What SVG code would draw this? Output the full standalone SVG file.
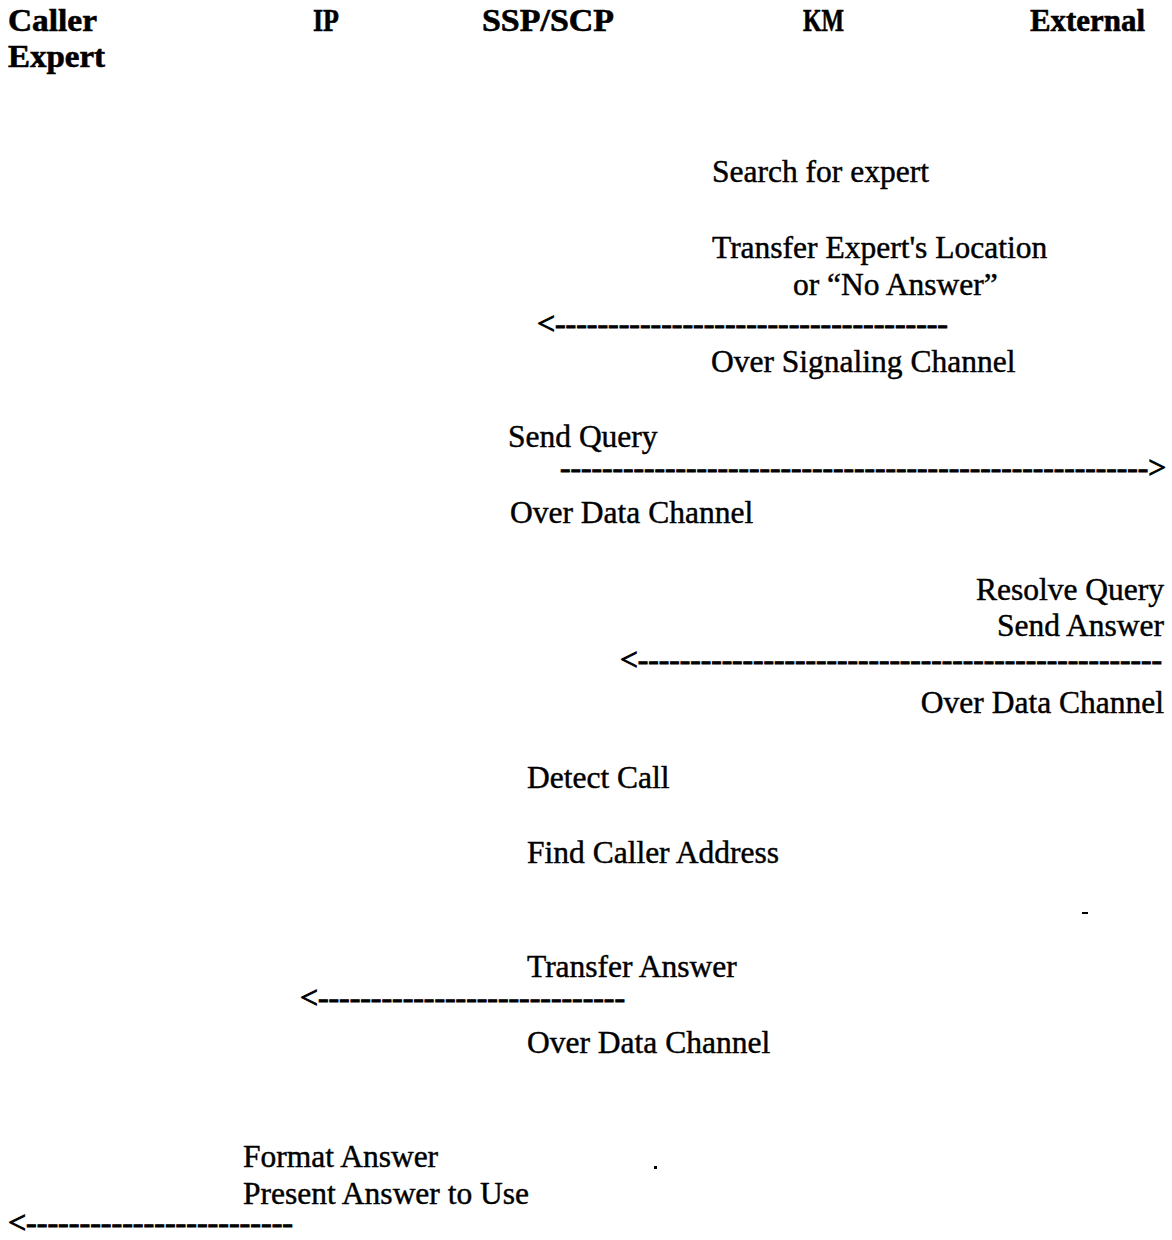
<svg xmlns="http://www.w3.org/2000/svg" width="1172" height="1240" viewBox="0 0 1172 1240">
  <style>
    text { font-family: "Liberation Serif", "Times New Roman", serif; font-size: 31.5px; fill: #000; stroke: #000; stroke-width: 0.45px; }
    .head { font-weight: bold; stroke-width: 0.6px; }
    .r { text-anchor: end; }
    .arrow { stroke-width: 1px; }
  </style>
  <rect width="1172" height="1240" fill="#fff"/>

  <!-- column headings -->
  <g id="heads">
    <g id="caller"><text class="head" x="8" y="31" textLength="89" lengthAdjust="spacingAndGlyphs">Caller</text><text class="head" x="8" y="67" textLength="97" lengthAdjust="spacingAndGlyphs">Expert</text></g>
    <g id="ip"><text class="head" x="313" y="31" textLength="26" lengthAdjust="spacingAndGlyphs">IP</text></g>
    <g id="sspscp"><text class="head" x="482" y="31" textLength="132" lengthAdjust="spacingAndGlyphs">SSP/SCP</text></g>
    <g id="km"><text class="head" x="803" y="31" textLength="41" lengthAdjust="spacingAndGlyphs">KM</text></g>
    <g id="external"><text class="head" x="1030" y="31" textLength="115" lengthAdjust="spacingAndGlyphs">External</text></g>
  </g>

  <!-- steps -->
  <g id="search"><text x="712" y="182">Search for expert</text></g>
  <g id="transfer-location">
    <text x="712" y="258">Transfer Expert's Location</text>
    <text x="793" y="295">or “No Answer”</text>
  </g>
  <g id="signaling-label"><text x="711" y="372">Over Signaling Channel</text></g>
  <g id="send-query"><text x="508" y="447">Send Query</text></g>
  <g id="data-label-1"><text x="510" y="523">Over Data Channel</text></g>
  <g id="resolve">
    <text class="r" x="1164" y="600">Resolve Query</text>
    <text class="r" x="1164" y="636">Send Answer</text>
  </g>
  <g id="data-label-2"><text class="r" x="1164" y="713">Over Data Channel</text></g>
  <g id="detect"><text x="527" y="788">Detect Call</text></g>
  <g id="find-address"><text x="527" y="863">Find Caller Address</text></g>
  <g id="transfer-answer"><text x="527" y="977">Transfer Answer</text></g>
  <g id="data-label-3"><text x="527" y="1053">Over Data Channel</text></g>
  <g id="format">
    <text x="243" y="1167">Format Answer</text>
    <text x="243" y="1204">Present Answer to Use</text>
  </g>

  <!-- connectors, typed as dashed text arrows -->
  <g id="connectors">
    <text class="arrow" x="537" y="334" textLength="411" lengthAdjust="spacingAndGlyphs">&lt;-------------------------------------</text>
    <text class="arrow" x="560" y="478" textLength="606" lengthAdjust="spacingAndGlyphs">--------------------------------------------------------&gt;</text>
    <text class="arrow" x="620" y="670" textLength="542" lengthAdjust="spacingAndGlyphs">&lt;--------------------------------------------------</text>
    <text class="arrow" x="300" y="1008" textLength="325" lengthAdjust="spacingAndGlyphs">&lt;-----------------------------</text>
    <text class="arrow" x="8" y="1233" textLength="285" lengthAdjust="spacingAndGlyphs">&lt;-------------------------</text>
  </g>

  <!-- specks -->
  <rect x="1082" y="912" width="6" height="2" fill="#000"/>
  <rect x="654" y="1166" width="3" height="3" fill="#000"/>
</svg>
